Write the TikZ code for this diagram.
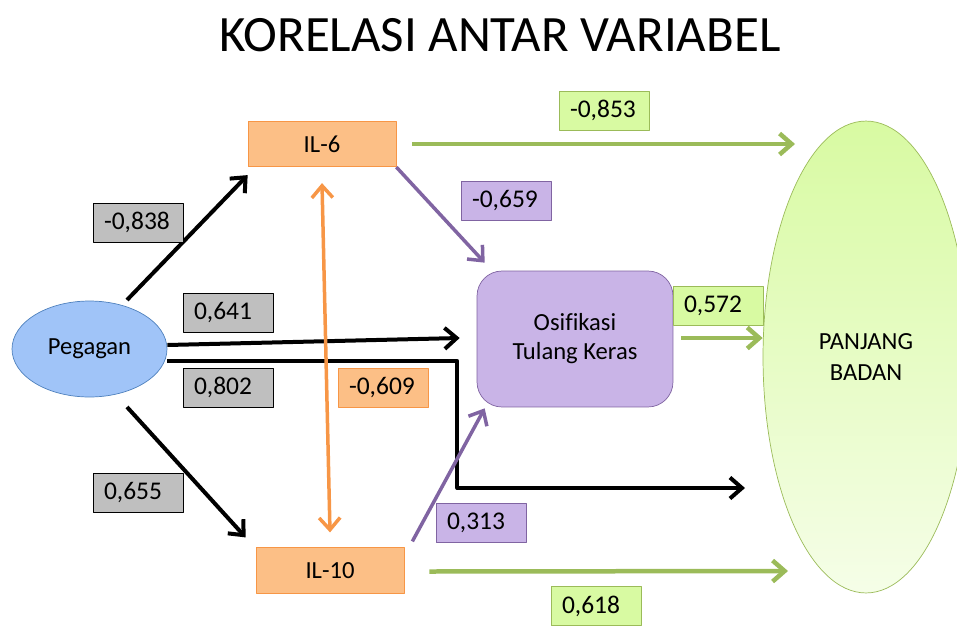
\documentclass[tikz,border=0pt]{standalone}
\usepackage{fontspec}
\setmainfont[Ligatures=NoCommon]{Carlito}
\usepackage{tikz}
\usetikzlibrary{arrows.meta, calc, shapes.geometric}

\begin{document}
\begin{tikzpicture}[x=0.02cm, y=-0.02cm, line join=round,
  >={Straight Barb[length=0.24cm, width=0.42cm]},
  val/.style={draw=#1, minimum height=0.78cm, text width=1.36cm,
    inner xsep=0.22cm, align=left, font=\fontsize{14.5}{17}\selectfont},
  grayval/.style={val=black, fill=valGray},
  orangeval/.style={val=ilBorder, fill=ilFill},
  purpleval/.style={val=osiBorder, fill=osiFill},
  greenval/.style={val=pbBorder, fill=pbFill},
  ilbox/.style={draw=ilBorder, fill=ilFill, minimum width=2.96cm,
    minimum height=0.91cm, font=\fontsize{14}{17}\selectfont}]

  % Colours
  \definecolor{pegFill}{HTML}{A0C4F8}
  \definecolor{pegBorder}{HTML}{4F81BD}
  \definecolor{ilFill}{HTML}{FCBF86}
  \definecolor{ilBorder}{HTML}{F79646}
  \definecolor{osiFill}{HTML}{C9B4E7}
  \definecolor{osiBorder}{HTML}{8064A2}
  \definecolor{pbFill}{HTML}{D8FAA2}
  \definecolor{pbBorder}{HTML}{9BBB59}
  \definecolor{valGray}{HTML}{BFBFBF}

  \useasboundingbox (0,0) rectangle (957,626);
  \clip (0,0) rectangle (957,626);

  % Title
  \node[font=\fontsize{29}{34}\selectfont] (title) at (500,35) {KORELASI ANTAR VARIABEL};

  % Variables
  \node[ellipse, draw=pbBorder, top color=pbFill, middle color=pbFill,
    bottom color=pbFill!25!white, minimum width=4.12cm, minimum height=9.44cm,
    align=center, font=\fontsize{14}{17.5}\selectfont] (pb) at (866,357) {PANJANG\\BADAN};
  \node[ellipse, draw=pegBorder, fill=pegFill, minimum width=3.1cm,
    minimum height=1.92cm, font=\fontsize{14}{17}\selectfont] (peg) at (89.5,349) {Pegagan};
  \node[ilbox] (il6) at (322,144) {IL-6};
  \node[ilbox] (il10) at (330,570.5) {IL-10};
  \node[draw=osiBorder, fill=osiFill, rounded corners=0.5cm, minimum width=3.92cm,
    minimum height=2.72cm, align=center, font=\fontsize{14}{16.5}\selectfont]
    (osi) at (575,339) {Osifikasi\\Tulang Keras};

  % Pegagan paths (black)
  \coordinate (pbLow) at (745,488);
  \draw[line width=0.08cm, ->] ($(peg.center)+(37.5,-49)$) -- ($(il6.south west)+(0,8)$);
  \draw[line width=0.08cm, ->] ($(peg.center)+(37.5,58)$) -- ($(il10.north west)+(-10,-10)$);
  \draw[line width=0.08cm, ->] ($(peg.east)+(0,-4)$) -- ($(osi.west)+(-17,-1)$);
  \draw[line width=0.08cm, ->] ($(peg.east)+(0,12)$) -- ++(290,0) |- (pbLow);

  % IL-6 <-> IL-10
  \draw[line width=0.07cm, ilBorder, <->] ($(il6.south)+(0,16)$) -- ($(il10.north)+(0,-15)$);

  % to Osifikasi (purple)
  \draw[line width=0.07cm, osiBorder, ->] (il6.south east) -- ($(osi.north west)+(8,-8)$);
  \draw[line width=0.07cm, osiBorder, ->] ($(il10.north east)+(8,-6)$) -- ($(osi.south west)+(8,1)$);

  % to Panjang Badan (green)
  \draw[line width=0.09cm, pbBorder, ->] ($(il6.east)+(16,0)$) -- ($(pb.center)+(-71,-213)$);
  \draw[line width=0.09cm, pbBorder, ->] ($(osi.east)+(8,-1)$) -- ($(pb.west)+(0,-19)$);
  \draw[line width=0.09cm, pbBorder, ->] ($(il10.east)+(25,1)$) -- ($(pb.center)+(-78,214)$);

  % Correlation values
  \node[grayval] (v838) at (138,222.5) {-0,838};
  \node[grayval] (v641) at (228,312.5) {0,641};
  \node[grayval] (v802) at (228,387.5) {0,802};
  \node[grayval] (v655) at (138,493) {0,655};
  \node[orangeval] (v609) at (383,387.5) {-0,609};
  \node[purpleval] (v659) at (506,200.5) {-0,659};
  \node[purpleval] (v313) at (481,523) {0,313};
  \node[greenval] (v853) at (604,110.5) {-0,853};
  \node[greenval] (v572) at (718,306) {0,572};
  \node[greenval] (v618) at (596,606) {0,618};

\end{tikzpicture}
\end{document}
